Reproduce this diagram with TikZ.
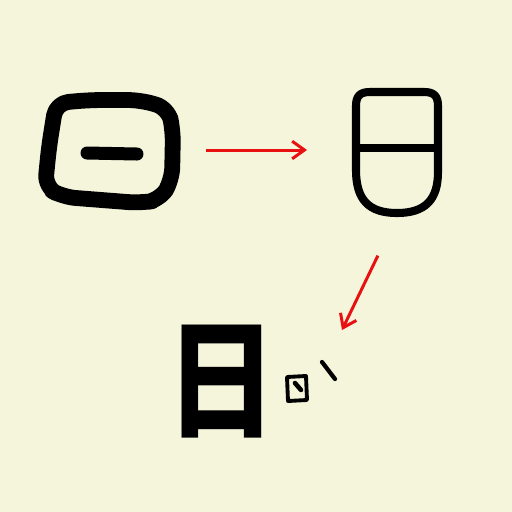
\documentclass[tikz,border=0pt]{standalone}
\usepackage{fontspec}
\usetikzlibrary{arrows.meta}
\newfontfamily\cjk{Noto Sans CJK SC}
\definecolor{paper}{RGB}{245,245,220}
\definecolor{arrowred}{RGB}{232,16,16}

\begin{document}
\begin{tikzpicture}[x=0.02cm, y=-0.02cm,
  glyph/.style={line width=9pt, line join=round, line cap=round, rounded corners=0.25cm},
  seal/.style={line width=4.6pt, line join=round, line cap=round},
  brush/.style={line width=2.2pt, line cap=round, line join=round},
  evolve/.style={draw=arrowred, line width=1.7pt, -{Straight Barb[length=7pt, width=10pt]}},
  form/.style={inner sep=0pt, outer sep=0pt}]
\fill[paper] (0,0) rectangle (512,512);
\useasboundingbox (0,0) rectangle (512,512);
% --- oracle form ---
\node[form, minimum width=2.92cm, minimum height=2.48cm] (oracle) at (107,150) {};
\draw[glyph] (56,103) -- (90,100) -- (140,100) -- (168,108) -- (173,130)
  -- (172,180) -- (160,200) -- (140,203) -- (63,197) -- (45,187) -- (49,147) -- cycle;
\draw[line width=7.4pt, line cap=round] (87,153) -- (137,154);
% --- seal form ---
\node[form, minimum width=1.84cm, minimum height=2.64cm] (sealform) at (397,150) {};
\draw[seal] (356,170) -- (356,106) .. controls (356,96) and (360,92) .. (370,92)
  -- (424,92) .. controls (434,92) and (438,96) .. (438,106) -- (438,172)
  .. controls (438,200) and (425,213) .. (397,213)
  .. controls (369,213) and (356,200) .. (356,170) -- cycle;
\draw[seal] (356,148) -- (438,148);
% --- regular form ---
\node[form, xscale=0.86, font=\cjk\bfseries\fontsize{73}{73}\selectfont] (kai) at (222,382) {日};
\draw[brush] (287,377) -- (306,376) -- (307,400) -- (288,401) -- cycle;
\draw[line width=2.6pt, line cap=round] (295,383) -- (301,390);
\draw[line width=2.4pt, line cap=round] (322,362) -- (335,379);
\coordinate (kaitip) at (342,330);
% --- arrows ---
\draw[evolve, shorten <=0.52cm, shorten >=0.88cm] (oracle.east) -- (sealform.west);
\draw[evolve, shorten <=0.88cm] (sealform.south) -- (kaitip);
\end{tikzpicture}
\end{document}
